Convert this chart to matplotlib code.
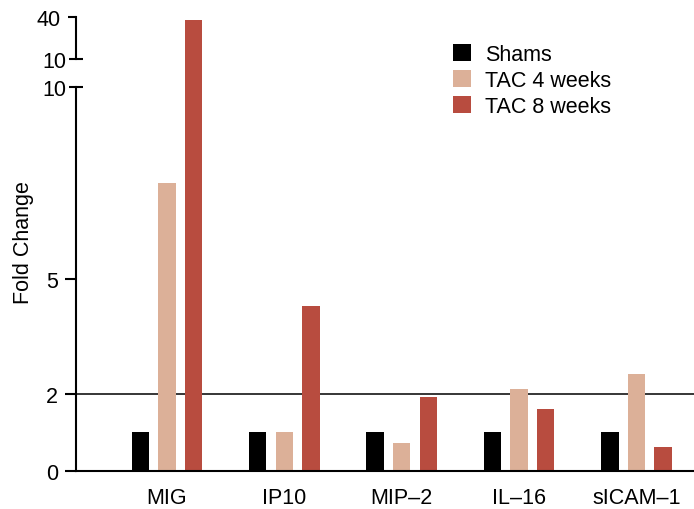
import numpy as np
import matplotlib
matplotlib.use("Agg")
import matplotlib.pyplot as plt

plt.rcParams['font.family'] = ['Liberation Sans', 'DejaVu Sans']

# Data
markers = ["MIG", "IP10", "MIP–2", "IL–16", "sICAM–1"]
shams = [1.0, 1.0, 1.0, 1.0, 1.0]
tac4 = [7.5, 1.0, 0.72, 2.12, 2.52]
tac8 = [38.0, 4.3, 1.92, 1.61, 0.61]
series = [("Shams", shams), ("TAC 4 weeks", tac4), ("TAC 8 weeks", tac8)]
colors = ["#000000", "#dcb098", "#b84c3f"]

W, H = 694, 510
fig = plt.figure(figsize=(W / 100, H / 100), dpi=100)

# layout in pixels
x0, x1 = 76, 694
low_top, low_bot = 88, 471.7      # 10 and 0 on the lower part
up_top, up_ten = 18, 60           # 40 and 10 on the upper part
fs = 15.5

ax = fig.add_axes([x0 / W, 1 - low_bot / H, (x1 - x0) / W, (low_bot - low_top) / H])
ax_up = fig.add_axes([x0 / W, 1 - low_top / H, (x1 - x0) / W, (low_top - up_top) / H])

up_lo = 10 - (low_top - up_ten) / (up_ten - up_top) * 30

x = np.arange(len(markers))
width = 0.149
step = 0.227
for i, (name, vals) in enumerate(series):
    pos = x + (i - 1) * step
    ax.bar(pos, vals, width, color=colors[i], label=name)
    for p, v in zip(pos, vals):
        if v > 10:
            ax_up.bar(p, v - up_lo, width, bottom=up_lo, color=colors[i])

ax.axhline(2, color='black', linewidth=1.1, zorder=0)

for a in (ax, ax_up):
    a.set_xlim(-0.775, 4.49)
    a.spines['top'].set_visible(False)
    a.spines['right'].set_visible(False)
    a.spines['left'].set_linewidth(1.5)
    a.patch.set_visible(False)

ax.set_ylim(0, 10)
ax.spines['bottom'].set_linewidth(1.5)
ax.spines['left'].set_bounds(0, 10)
ax.set_yticks([0, 2, 5])
ax.set_yticks([10], labels=["10"], minor=True)
ax.tick_params(axis='y', which='major', direction='out', length=8, width=1.5,
               labelsize=fs, pad=5)
ax.tick_params(axis='y', which='minor', direction='inout', length=10, width=1.5,
               labelsize=fs, pad=2)
ax.set_xticks(x, markers)
ax.tick_params(axis='x', length=0, labelsize=fs, pad=12)

ax_up.set_ylim(up_lo, 40)
ax_up.spines['bottom'].set_visible(False)
ax_up.spines['left'].set_bounds(10, 40)
ax_up.set_xticks([])
ax_up.set_yticks([40])
ax_up.set_yticks([10], labels=["10"], minor=True)
ax_up.tick_params(axis='y', which='major', direction='out', length=6, width=1.5,
                  labelsize=fs, pad=5)
ax_up.tick_params(axis='y', which='minor', direction='inout', length=10, width=1.5,
                  labelsize=fs, pad=2)

fig.text(24 / W, 1 - 243 / H, "Fold Change", rotation=90, fontsize=fs,
         ha='center', va='center')

ax.legend(loc='upper left', bbox_to_anchor=(453 / W, 1 - 45 / H),
          bbox_transform=fig.transFigure, frameon=False, fontsize=fs,
          handlelength=0.85, handleheight=0.85, handletextpad=0.65,
          labelspacing=0.22, borderpad=0, borderaxespad=0)

fig.savefig("out.png", dpi=100)
